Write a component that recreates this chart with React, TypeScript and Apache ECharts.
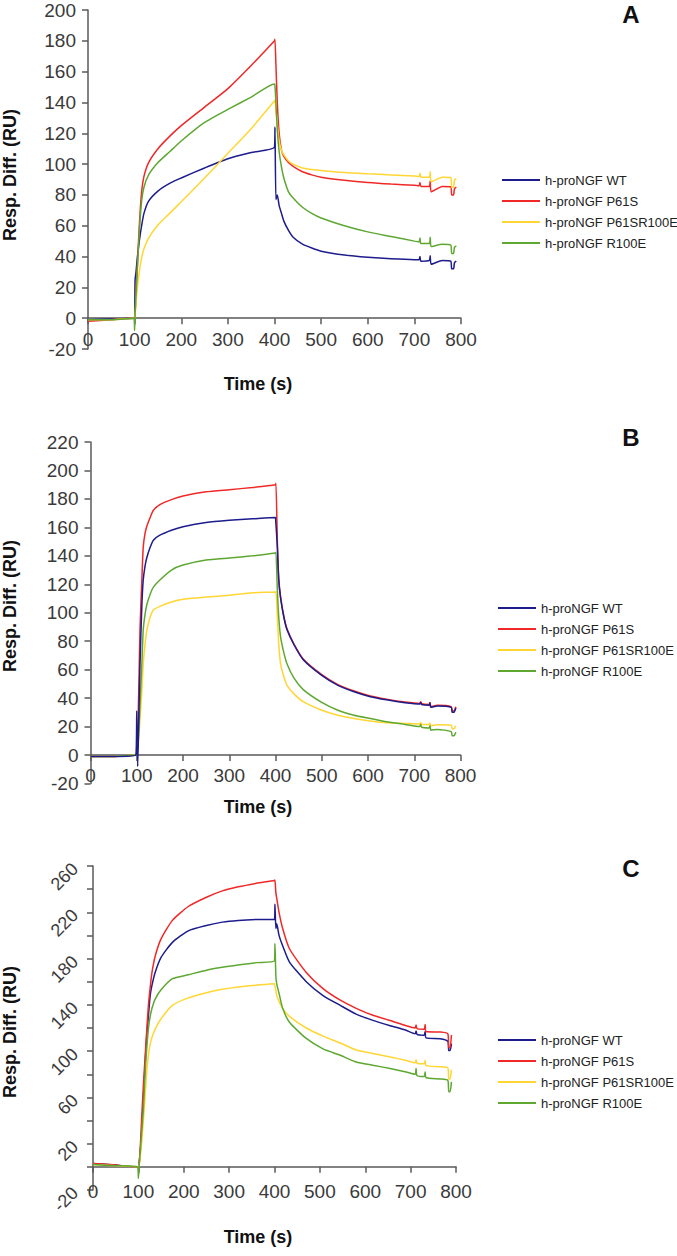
import React, { useEffect, useRef } from "react";
import * as echarts from "echarts";

const seriesNames = ["h-proNGF WT", "h-proNGF P61S", "h-proNGF P61SR100E", "h-proNGF R100E"];
const seriesColors = ["#1c1c8c", "#f02828", "#ffd633", "#5ea832"];
const panelLetters = ["A", "B", "C"];
const xTitle = "Time (s)";
const yTitle = "Resp. Diff. (RU)";

// Panel A
const tA = [0, 50, 98, 100, 101, 103, 106, 110, 115, 120, 130, 150, 175, 200, 250, 300, 350, 400, 401, 403, 406, 410, 415, 420, 430, 440, 460, 480, 500, 550, 600, 650, 700, 710, 712, 714, 732, 734, 736, 760, 778, 780, 784, 786, 790];
const wtA = [-1, -0.5, 0, 0, 25, 30, 40, 50, 60, 68, 76, 82.5, 87.5, 91, 97.5, 103.5, 107.5, 111, 124, 77, 80, 73, 68, 63, 57, 52.5, 48, 45.5, 43.5, 41, 39.5, 38.5, 38, 38, 40, 37, 37.5, 40.5, 35, 37.5, 37, 32, 32, 36, 37];
const p61sA = [-2, -1, 0, 0, 3, 15, 35, 60, 82, 92, 101, 110, 118, 125, 137, 149, 164, 180, 181, 165, 140, 120, 109, 105, 101, 98.5, 95, 93, 91.5, 89.5, 88, 87, 86.3, 86, 88, 85.5, 85.5, 89, 82, 85.5, 85.3, 80, 80, 84, 85];
const p61sr100eA = [-1, -1, 0, 0, 2, 10, 20, 30, 39, 45, 52, 60.5, 68, 75.5, 91, 107, 123, 141, 141.5, 135, 126, 115, 109, 106, 102, 100, 97.5, 96.5, 95.8, 94.5, 93.7, 93, 92.3, 92, 94, 91.5, 91.5, 95, 88.5, 91.5, 91.3, 85, 85, 89.5, 90.5];
const r100eA = [-1, -1, 0, -8, 3, 15, 33, 56, 76, 85, 93, 101, 108, 115, 127, 135.5, 143.5, 152, 151, 140, 122, 108, 98, 91, 82, 78, 72, 68, 65, 60, 56, 53, 50, 49.5, 52, 48.5, 48.5, 52.5, 46.5, 48, 47.5, 42, 42, 46, 47];

// Panel B
const tB = [0, 50, 98, 100, 102, 104, 107, 111, 114, 118, 122, 129, 136, 150, 175, 200, 250, 300, 350, 400, 401, 404, 407, 411, 418, 425, 440, 460, 500, 535, 570, 605, 640, 680, 712, 714, 716, 732, 734, 736, 750, 780, 782, 786, 790];
const wtB = [-1, -1, 0, 31, -8, 20, 64, 105, 123, 133, 139, 146, 151, 154.5, 158, 160.5, 163.5, 165, 166, 167, 167, 146, 123, 110.5, 97, 88, 77.5, 67, 56, 49, 44.5, 41, 38.8, 36.8, 35.8, 37, 35.5, 35, 36.5, 33.5, 34.5, 33.5, 30, 30, 33];
const p61sB = [-1, -1, 0, 0, 15, 40, 88, 123, 146, 156, 161, 167, 172, 176, 179.5, 182, 185, 186.5, 188, 190, 191, 150, 124, 111, 97.5, 88.5, 78, 67.5, 56.5, 49.5, 45, 41.5, 39.3, 37.3, 36.3, 37.5, 36, 35.5, 37, 34, 35, 34, 31, 31, 34];
const p61sr100eB = [-1, -1, 0, 0, 3, 10, 25, 45, 64, 78, 88, 97, 102, 104.5, 107.5, 109.5, 111, 112.3, 114, 114.6, 115, 97, 78, 64, 55, 49, 43, 37.5, 31.5, 28, 25.7, 24, 22.7, 22.2, 21.8, 22.8, 21.5, 21.5, 22.5, 20.5, 21.3, 21, 18.5, 18.5, 20.5];
const r100eB = [-1, -1, 0, 0, 5, 15, 35, 64, 88, 99, 106, 113, 118, 123, 130, 133.5, 137, 138.5, 140, 142, 142.5, 116, 97, 83, 72, 64, 54, 46, 37, 31.5, 28, 25.7, 23.4, 21.5, 20, 21.5, 19.5, 19, 20.5, 17.5, 18, 16.5, 13.5, 13.5, 16];

// Panel C
const tC = [0, 50, 98, 100, 102, 104, 107, 111, 115, 118, 122, 126, 130, 137, 150, 175, 210, 250, 285, 320, 360, 400, 401, 403, 405, 410, 418, 433, 470, 507, 545, 580, 617, 655, 690, 710, 712, 714, 730, 732, 734, 765, 782, 784, 787, 790];
const wtC = [3, 1.5, 0, 0, 4, 12, 30, 60, 90, 111, 130, 148, 157, 168, 181, 194, 204, 208.6, 211.5, 213, 213.8, 214, 227, 206, 210, 200, 191, 177, 160, 148, 139.5, 132, 126.6, 122, 118, 115, 117.5, 114.5, 113.8, 117, 111.5, 110.8, 108.5, 100.5, 100.5, 106.5];
const p61sC = [3, 1.5, 0, 0, 5, 15, 40, 70, 96, 115, 139, 155, 168, 182, 197, 213, 225, 233, 238.5, 242, 245, 247.5, 248, 237, 232, 220, 206, 188.5, 168, 154, 144, 137, 131, 126.5, 122, 120, 122.5, 119.5, 119, 123, 117, 116.5, 115, 103, 103, 114];
const p61sr100eC = [2, 1, 0, 0, 2, 8, 20, 40, 62, 80, 96, 106, 112, 119, 128, 139.6, 146, 150.5, 153.5, 155.5, 157, 158.3, 158, 152, 148, 143, 137, 130, 120, 113, 107, 101, 98, 95, 92, 90, 92.5, 89.5, 89, 92, 87.5, 86.5, 85.5, 76, 76, 84];
const r100eC = [2, 1, 0, -10, 3, 12, 28, 50, 82, 100, 119, 130, 137, 145, 153, 162.6, 166, 170, 172.5, 174.5, 176.5, 178, 193, 165, 158, 150, 137, 125, 111, 102, 96.4, 90.6, 87.8, 85, 82, 80, 85, 79, 78, 82, 77, 76, 74.8, 65, 65, 73.4];

const xMin = 0;
const xMax = 800;
const xStep = 100;
const yMins = [-20, -20, -20];
const yMaxs = [200, 220, 260];
const yStep = 20;

const panelTimes = [tA, tB, tC];
const panelValues = [
  [wtA, p61sA, p61sr100eA, r100eA],
  [wtB, p61sB, p61sr100eB, r100eB],
  [wtC, p61sC, p61sr100eC, r100eC],
];

const FONT = '"Liberation Sans", Arial, sans-serif';

export default function App() {
  const ref = useRef<HTMLDivElement>(null);

  useEffect(() => {
    if (!ref.current) return;
    const chart = echarts.init(ref.current, undefined, { renderer: "svg" });

    const grids = [
      { left: 88, top: 10, width: 373, height: 339 },
      { left: 90.5, top: 442, width: 370, height: 341.5 },
      { left: 93, top: 866, width: 363, height: 324 },
    ];
    const xLabelMargins = [12, 11, 15];
    const axisLineStyle = { color: "#5a5a5a", width: 1.5 };

    // x axis sits at value 0: shift it up from the grid bottom by the pixel height of [min, 0]
    const xAxes = grids.map((g, i) => ({
      type: "value",
      gridIndex: i,
      min: xMin,
      max: xMax,
      interval: xStep,
      offset: -(g.height * (0 - yMins[i])) / (yMaxs[i] - yMins[i]),
      axisLine: { show: true, onZero: false, lineStyle: axisLineStyle },
      axisTick: { show: true, inside: false, length: 6, lineStyle: axisLineStyle },
      splitLine: { show: false },
      axisLabel: {
        fontSize: 19,
        color: "#3a3a3a",
        fontFamily: FONT,
        margin: xLabelMargins[i],
      },
    }));

    const yAxes = grids.map((_, i) => ({
      type: "value",
      gridIndex: i,
      min: yMins[i],
      max: yMaxs[i],
      interval: yStep,
      axisLine: { show: true, onZero: false, lineStyle: axisLineStyle },
      axisTick: { show: true, inside: false, length: 6, lineStyle: axisLineStyle },
      splitLine: { show: false },
      axisLabel:
        i === 2
          ? {
              fontSize: 18,
              color: "#3a3a3a",
              fontFamily: FONT,
              margin: 18,
              rotate: 45,
              formatter: (v: number) => (((v - yMins[2]) / yStep) % 2 === 0 ? String(v) : ""),
            }
          : { fontSize: 19, color: "#3a3a3a", fontFamily: FONT, margin: 12 },
    }));

    const series: any[] = [];
    panelValues.forEach((vals, p) => {
      vals.forEach((v, s) => {
        series.push({
          type: "line",
          name: seriesNames[s],
          xAxisIndex: p,
          yAxisIndex: p,
          data: panelTimes[p].map((t, k) => [t, v[k]]),
          showSymbol: false,
          symbol: "none",
          smooth: 0.2,
          color: seriesColors[s],
          itemStyle: { color: seriesColors[s] },
          lineStyle: { color: seriesColors[s], width: 1.5 },
          z: p === 1 && s === 0 ? 3 : 2,
        });
      });
    });

    const legendPos = [
      { left: 497, top: 168 },
      { left: 493, top: 596 },
      { left: 493, top: 1028 },
    ];
    const legends = legendPos.map((pos) => ({
      ...pos,
      orient: "vertical",
      icon: "rect",
      itemWidth: 38,
      itemHeight: 2,
      itemGap: 7,
      selectedMode: false,
      textStyle: { fontSize: 13, lineHeight: 14, color: "#222", fontFamily: FONT },
      data: seriesNames,
    }));

    const yTitleY = [175, 606, 1032];
    const xTitleY = [384, 807, 1237];
    const letterY = [14, 437, 868];
    const graphics: any[] = [];
    for (let i = 0; i < 3; i++) {
      graphics.push({
        type: "text",
        x: 10,
        y: yTitleY[i],
        rotation: Math.PI / 2,
        style: {
          text: yTitle,
          font: `bold 18px ${FONT}`,
          fill: "#111",
          align: "center",
          verticalAlign: "middle",
        },
      });
      graphics.push({
        type: "text",
        x: 258,
        y: xTitleY[i],
        style: {
          text: xTitle,
          font: `bold 18px ${FONT}`,
          fill: "#111",
          align: "center",
          verticalAlign: "middle",
        },
      });
      graphics.push({
        type: "text",
        x: 631,
        y: letterY[i],
        style: {
          text: panelLetters[i],
          font: `bold 24px ${FONT}`,
          fill: "#111",
          align: "center",
          verticalAlign: "middle",
        },
      });
    }

    chart.setOption({
      animation: false,
      backgroundColor: "#ffffff",
      grid: grids.map((g) => ({ ...g, containLabel: false })),
      xAxis: xAxes,
      yAxis: yAxes,
      legend: legends,
      series,
      graphic: graphics,
    });

    return () => chart.dispose();
  }, []);

  return (
    <div
      ref={ref}
      style={{ position: "absolute", left: 0, top: 0, width: 677, height: 1256, background: "#fff" }}
    />
  );
}
